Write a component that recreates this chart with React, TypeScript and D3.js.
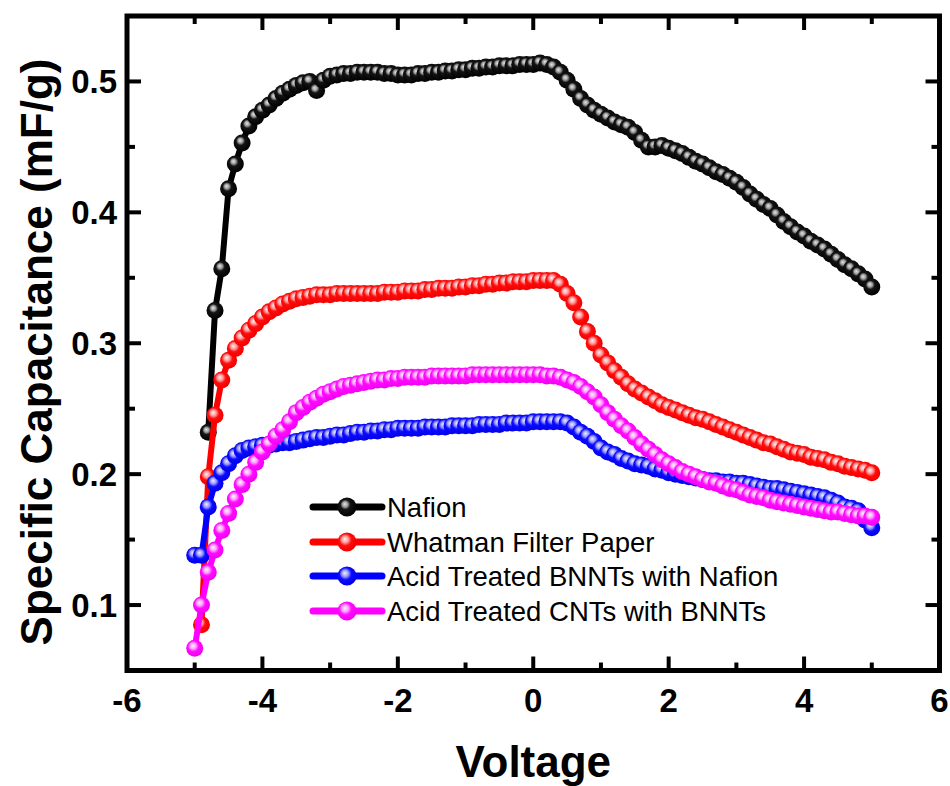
import React from "react";
import * as d3 from "d3";

const voltage = [
  -5.0, -4.9, -4.8, -4.7, -4.6, -4.5, -4.4, -4.3, -4.2, -4.1,
  -4.0, -3.9, -3.8, -3.7, -3.6, -3.5, -3.4, -3.3, -3.2, -3.1,
  -3.0, -2.9, -2.8, -2.7, -2.6, -2.5, -2.4, -2.3, -2.2, -2.1,
  -2.0, -1.9, -1.8, -1.7, -1.6, -1.5, -1.4, -1.3, -1.2, -1.1,
  -1.0, -0.9, -0.8, -0.7, -0.6, -0.5, -0.4, -0.3, -0.2, -0.1,
  0.0, 0.1, 0.2, 0.3, 0.4, 0.5, 0.6, 0.7, 0.8, 0.9,
  1.0, 1.1, 1.2, 1.3, 1.4, 1.5, 1.6, 1.7, 1.8, 1.9,
  2.0, 2.1, 2.2, 2.3, 2.4, 2.5, 2.6, 2.7, 2.8, 2.9,
  3.0, 3.1, 3.2, 3.3, 3.4, 3.5, 3.6, 3.7, 3.8, 3.9,
  4.0, 4.1, 4.2, 4.3, 4.4, 4.5, 4.6, 4.7, 4.8, 4.9,
  5.0,
];

const nafion = [
  null, null, 0.232, 0.325, 0.357, 0.418, 0.437, 0.453, 0.466, 0.473,
  0.478, 0.482, 0.487, 0.491, 0.494, 0.497, 0.499, 0.500, 0.493, 0.501,
  0.504, 0.505, 0.506, 0.506, 0.507, 0.507, 0.507, 0.507, 0.506, 0.506,
  0.505, 0.505, 0.505, 0.506, 0.506, 0.507, 0.507, 0.508, 0.508, 0.509,
  0.509, 0.510, 0.510, 0.511, 0.511, 0.512, 0.512, 0.512, 0.513, 0.513,
  0.513, 0.514, 0.513, 0.511, 0.507, 0.501, 0.494, 0.487, 0.482, 0.478,
  0.475, 0.472, 0.469, 0.467, 0.465, 0.461, 0.455, 0.450, 0.450, 0.451,
  0.449, 0.447, 0.445, 0.442, 0.439, 0.437, 0.434, 0.431, 0.429, 0.426,
  0.423, 0.419, 0.414, 0.410, 0.406, 0.403, 0.398, 0.393, 0.389, 0.385,
  0.382, 0.378, 0.375, 0.372, 0.368, 0.364, 0.360, 0.357, 0.353, 0.349,
  0.343,
];

const whatman = [
  null, 0.085, 0.198, 0.245, 0.272, 0.287, 0.296, 0.304, 0.310, 0.315,
  0.320, 0.324, 0.327, 0.330, 0.332, 0.334, 0.335, 0.336, 0.337, 0.337,
  0.337, 0.338, 0.338, 0.338, 0.338, 0.338, 0.338, 0.338, 0.339, 0.339,
  0.339, 0.340, 0.340, 0.340, 0.341, 0.341, 0.342, 0.342, 0.342, 0.343,
  0.343, 0.344, 0.344, 0.345, 0.345, 0.346, 0.346, 0.347, 0.347, 0.347,
  0.348, 0.348, 0.348, 0.348, 0.345, 0.338, 0.331, 0.320, 0.309, 0.300,
  0.291, 0.285, 0.279, 0.274, 0.269, 0.265, 0.262, 0.259, 0.256, 0.253,
  0.251, 0.249, 0.247, 0.245, 0.243, 0.242, 0.240, 0.238, 0.236, 0.234,
  0.232, 0.230, 0.228, 0.226, 0.224, 0.223, 0.221, 0.219, 0.217, 0.216,
  0.215, 0.213, 0.212, 0.211, 0.209, 0.208, 0.206, 0.205, 0.204, 0.203,
  0.201,
];

const bnntNafion = [
  0.138, 0.138, 0.175, 0.193, 0.201, 0.208, 0.214, 0.218, 0.220, 0.221,
  0.222, 0.222, 0.223, 0.224, 0.224, 0.225, 0.226, 0.227, 0.228, 0.228,
  0.229, 0.230, 0.230, 0.231, 0.232, 0.232, 0.233, 0.233, 0.234, 0.234,
  0.235, 0.235, 0.235, 0.235, 0.236, 0.236, 0.236, 0.236, 0.237, 0.237,
  0.237, 0.237, 0.238, 0.238, 0.238, 0.238, 0.239, 0.239, 0.239, 0.239,
  0.240, 0.240, 0.240, 0.240, 0.240, 0.239, 0.236, 0.232, 0.229, 0.225,
  0.220, 0.217, 0.215, 0.212, 0.210, 0.208, 0.207, 0.206, 0.204, 0.203,
  0.201, 0.200, 0.199, 0.198, 0.197, 0.196, 0.195, 0.195, 0.194, 0.194,
  0.193, 0.193, 0.192, 0.191, 0.190, 0.189, 0.189, 0.188, 0.187, 0.186,
  0.185, 0.184, 0.183, 0.182, 0.180, 0.178, 0.175, 0.174, 0.172, 0.165,
  0.159,
];

const cntBnnt = [
  0.067, 0.100, 0.125, 0.142, 0.157, 0.170, 0.181, 0.192, 0.200, 0.209,
  0.217, 0.223, 0.229, 0.234, 0.240, 0.247, 0.251, 0.255, 0.258, 0.261,
  0.263, 0.265, 0.267, 0.268, 0.269, 0.270, 0.271, 0.272, 0.272, 0.273,
  0.273, 0.274, 0.274, 0.274, 0.274, 0.275, 0.275, 0.275, 0.275, 0.275,
  0.275, 0.276, 0.276, 0.276, 0.276, 0.276, 0.276, 0.276, 0.276, 0.276,
  0.276, 0.276, 0.275, 0.275, 0.274, 0.272, 0.270, 0.267, 0.263, 0.259,
  0.253, 0.247, 0.242, 0.237, 0.233, 0.228, 0.223, 0.219, 0.215, 0.211,
  0.208, 0.205, 0.202, 0.200, 0.198, 0.196, 0.194, 0.193, 0.191, 0.189,
  0.188, 0.186, 0.184, 0.183, 0.182, 0.180, 0.179, 0.178, 0.177, 0.176,
  0.175, 0.174, 0.173, 0.172, 0.171, 0.171, 0.170, 0.169, 0.168, 0.168,
  0.167,
];

const seriesNames = [
  "Nafion",
  "Whatman Filter Paper",
  "Acid Treated BNNTs with Nafion",
  "Acid Treated CNTs with BNNTs",
];
const seriesValues = [nafion, whatman, bnntNafion, cntBnnt];
const seriesColors = ["#000000", "#ff0000", "#0000ff", "#ff00ff"];
const gradStops = [
  ["#e6e6e6", "#9a9a9a", "#141414", "#000000"],
  ["#fff2f2", "#ff9a9a", "#ff0c0c", "#f00000"],
  ["#eeeeff", "#9a9aff", "#0c0cff", "#0000e8"],
  ["#fff2ff", "#ffa0ff", "#ff0cff", "#f000f0"],
];

const xTicks = [-6, -4, -2, 0, 2, 4, 6];
const xMinor = [-5, -3, -1, 1, 3, 5];
const yTicks = [0.1, 0.2, 0.3, 0.4, 0.5];
const yMinor = [0.15, 0.25, 0.35, 0.45];

const FONT = "'Liberation Sans', Arial, Helvetica, sans-serif";

export default function App() {
  const L = 127, R = 939.5, T = 16, B = 670.5;
  const x = d3.scaleLinear().domain([-6, 6]).range([L, R]);
  const y = d3.scaleLinear().domain([0.05, 0.55]).range([B, T]);

  const majorLen = 14, minorLen = 8;

  const lineGen = d3
    .line<number>()
    .defined((d: any) => d !== null)
    .x((_d: any, i: number) => x(voltage[i]))
    .y((d: any) => y(d));

  const legendX0 = 313, legendX1 = 382, legendBall = 347, legendText = 387;
  const legendY = [507, 542, 576, 611];

  return (
    <svg
      width={950}
      height={786}
      style={{ position: "absolute", left: 0, top: 0, background: "#fff" }}
      fontFamily={FONT}
    >
      <defs>
        {gradStops.map((s, i) => (
          <radialGradient key={i} id={`g${i}`} cx="0.45" cy="0.42" r="0.58" fx="0.38" fy="0.34">
            <stop offset="0" stopColor={s[0]} />
            <stop offset={i === 0 ? "0.25" : "0.3"} stopColor={s[1]} />
            <stop offset={i === 0 ? "0.45" : "0.55"} stopColor={s[2]} />
            <stop offset="1" stopColor={s[3]} />
          </radialGradient>
        ))}
        <clipPath id="plotclip">
          <rect x={L} y={T} width={R - L} height={B - T} />
        </clipPath>
      </defs>
      <rect x={0} y={0} width={950} height={786} fill="#fff" />

      {/* series */}
      <g clipPath="url(#plotclip)">
        {seriesValues.map((vals, si) => (
          <g key={si}>
            <path
              d={lineGen(vals as any) || ""}
              fill="none"
              stroke={seriesColors[si]}
              strokeWidth={6}
              strokeLinejoin="round"
            />
            {vals.map((v, i) =>
              v === null ? null : (
                <circle key={i} cx={x(voltage[i])} cy={y(v)} r={8.5} fill={`url(#g${si})`} />
              )
            )}
          </g>
        ))}
      </g>

      {/* frame */}
      <rect x={L} y={T} width={R - L} height={B - T} fill="none" stroke="#000" strokeWidth={5} />

      {/* x ticks */}
      {xTicks.map((t) => (
        <g key={`xt${t}`}>
          <line x1={x(t)} x2={x(t)} y1={B} y2={B - majorLen} stroke="#000" strokeWidth={4} />
          <line x1={x(t)} x2={x(t)} y1={T} y2={T + majorLen} stroke="#000" strokeWidth={4} />
          <text x={x(t)} y={712} textAnchor="middle" fontSize={33} fontWeight="bold">
            {t}
          </text>
        </g>
      ))}
      {xMinor.map((t) => (
        <g key={`xm${t}`}>
          <line x1={x(t)} x2={x(t)} y1={B} y2={B - minorLen} stroke="#000" strokeWidth={4} />
          <line x1={x(t)} x2={x(t)} y1={T} y2={T + minorLen} stroke="#000" strokeWidth={4} />
        </g>
      ))}

      {/* y ticks */}
      {yTicks.map((t) => (
        <g key={`yt${t}`}>
          <line x1={L} x2={L + majorLen} y1={y(t)} y2={y(t)} stroke="#000" strokeWidth={4} />
          <line x1={R} x2={R - majorLen} y1={y(t)} y2={y(t)} stroke="#000" strokeWidth={4} />
          <text x={117} y={y(t) + 12} textAnchor="end" fontSize={33} fontWeight="bold">
            {t.toFixed(1)}
          </text>
        </g>
      ))}
      {yMinor.map((t) => (
        <g key={`ym${t}`}>
          <line x1={L} x2={L + minorLen} y1={y(t)} y2={y(t)} stroke="#000" strokeWidth={4} />
          <line x1={R} x2={R - minorLen} y1={y(t)} y2={y(t)} stroke="#000" strokeWidth={4} />
        </g>
      ))}

      {/* axis titles */}
      <text x={(L + R) / 2} y={777} textAnchor="middle" fontSize={44} fontWeight="bold">
        Voltage
      </text>
      <text
        transform={`translate(52, 352) rotate(-90)`}
        textAnchor="middle"
        fontSize={44}
        fontWeight="bold"
      >
        Specific Capacitance (mF/g)
      </text>

      {/* legend */}
      {seriesNames.map((n, i) => (
        <g key={n}>
          <line
            x1={legendX0}
            x2={legendX1}
            y1={legendY[i]}
            y2={legendY[i]}
            stroke={seriesColors[i]}
            strokeWidth={7}
            strokeLinecap="round"
          />
          <circle cx={legendBall} cy={legendY[i]} r={9.5} fill={`url(#g${i})`} />
          <text x={legendText} y={legendY[i] + 10} fontSize={27.5}>
            {n}
          </text>
        </g>
      ))}
    </svg>
  );
}
